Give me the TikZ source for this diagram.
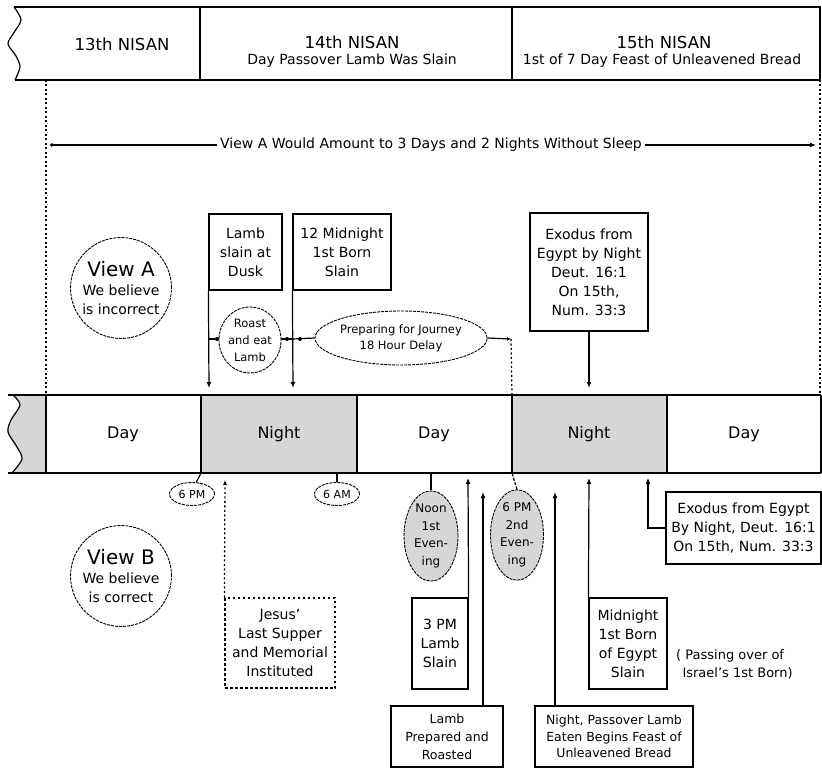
\documentclass[tikz,border=0pt]{standalone}
\usepackage{fontspec}
\setmainfont{DejaVu Sans}
\usetikzlibrary{arrows.meta,shapes.geometric}
\definecolor{nightgray}{gray}{0.84}
\tikzset{
 ln/.style={line width=1.2pt},
 box/.style={draw, line width=1.2pt, fill=white, inner sep=0pt, align=center, font=\fontsize{14}{19}\selectfont},
 dotbox/.style={box, dash pattern=on 2.5pt off 2.5pt},
 tag/.style={draw, ellipse, line width=0.9pt, dash pattern=on 3pt off 1pt, fill=white, inner sep=0pt, align=center},
 vcirc/.style={draw, circle, line width=0.9pt, dash pattern=on 3pt off 1pt, minimum size=101pt, inner sep=0pt, align=center, font=\fontsize{14}{19}\selectfont},
 ar/.style={-{Latex[length=6pt,width=5pt]}, line width=1.2pt},
 dots/.style={line width=1.3pt, dash pattern=on 2pt off 2.5pt},
 lbl/.style={inner sep=0pt, align=center},
 daytxt/.style={inner sep=0pt, font=\fontsize{16}{18}\selectfont},
}
\begin{document}
\begin{tikzpicture}[x=1pt,y=-1pt]
\useasboundingbox (0,0) rectangle (822,770);
% header
\draw[ln] plot[smooth] coordinates {(14,7) (21,20) (13,34) (8,44) (16,56) (20,67) (15,80)};
\draw[ln] (14,7) -- (820,7) -- (820,80) -- (15,80);
\draw[ln] (200,7) -- (200,80);
\draw[ln] (512,7) -- (512,80);
\node[lbl, font=\fontsize{16.5}{18}\selectfont] (h13) at (122,44) {13th NISAN};
\node[lbl, font=\fontsize{16.5}{18}\selectfont] (h14) at (352,42) {14th NISAN};
\node[lbl, font=\fontsize{14}{16}\selectfont] (h14s) at (352,61) {Day Passover Lamb Was Slain};
\node[lbl, font=\fontsize{16.5}{18}\selectfont] (h15) at (664,42) {15th NISAN};
\node[lbl, font=\fontsize{14}{16}\selectfont] (h15s) at (662,61) {1st of 7 Day Feast of Unleavened Bread};
% dotted verticals
\draw[dots] (46,80) -- (46,395);
\draw[dots] (820,80) -- (820,395);
% view A line
\coordinate (vaL) at (50,145);
\coordinate (vaR) at (816,145);
\node[lbl, font=\fontsize{14}{16}\selectfont, fill=white, inner xsep=3pt] (va) at (431,145) {View A Would Amount to 3 Days and 2 Nights Without Sleep};
\draw[ln, {Circle[length=3.5pt]}-] (vaL) -- (va.west);
\draw[ar] (va.east) -- (vaR);
% view A circle
\node[vcirc] (viewA) at (121,288) {{\fontsize{20}{21}\selectfont View A}\\We believe\\is incorrect};
% boxes above
\node[box, minimum width=73pt, minimum height=76pt] (lamb) at (245.5,252) {Lamb\\slain at\\Dusk};
\node[box, minimum width=98pt, minimum height=76pt] (mid12) at (342,252) {12 Midnight\\1st Born\\Slain};
\node[box, minimum width=118pt, minimum height=118pt] (ex1) at (589,272) {Exodus from\\Egypt by Night\\Deut. 16:1\\On 15th,\\Num. 33:3};
\coordinate (t1) at (209,388);
\coordinate (t2) at (293,388);
\coordinate (t3) at (589,388);
\draw[ar] (lamb.south west) -- (t1);
\draw[ar] (mid12.south west) -- (t2);
\draw[ar] (ex1.south) -- (t3);
% horizontal journey line
\coordinate (h1) at (209,339);
\coordinate (h2) at (293,339);
\coordinate (pe) at (511,339);
\coordinate (pb) at (512,395);
\draw[ln] (h1) -- (h2);
\node[tag, minimum width=48pt, minimum height=66pt, font=\fontsize{11.5}{17}\selectfont] (roast) at (250,340) {Roast\\and eat\\Lamb};
\node[tag, minimum width=160pt, minimum height=54pt, font=\fontsize{11.5}{16}\selectfont] (prep) at (401,338) {Preparing for Journey\\18 Hour Delay};
\draw[ln] (h2) -- (prep.west);
\draw[ln, -{Latex[length=4pt,width=4pt]}] (prep.east) -- (pe);
\draw[dots] (pe) -- (pb);
\fill (217,339) circle (2pt);
\fill (287,339) circle (2pt);
\fill (300,339) circle (2pt);
% timeline
\fill[nightgray] plot[smooth] coordinates {(13,395) (20,405) (11,420) (8,432) (17,447) (22,459) (12,473)} -- (46,473) -- (46,395) -- cycle;
\fill[nightgray] (201,395) rectangle (357,473);
\fill[nightgray] (512,395) rectangle (667,473);
\draw[ln] plot[smooth] coordinates {(13,395) (20,405) (11,420) (8,432) (17,447) (22,459) (12,473)};
\draw[ln] (8,395) -- (821,395);
\draw[ln] (8,473) -- (821,473);
\foreach \xx in {46,201,357,512,667,821} \draw[ln] (\xx,395) -- (\xx,473);
\node[daytxt] (d1) at (123,434) {Day};
\node[daytxt] (n1) at (279,434) {Night};
\node[daytxt] (d2) at (434,434) {Day};
\node[daytxt] (n2) at (589,434) {Night};
\node[daytxt] (d3) at (744,434) {Day};
% below timeline
\node[tag, minimum width=45pt, minimum height=23pt, font=\fontsize{11}{12}\selectfont] (pm6) at (192,494) {6 PM};
\node[tag, minimum width=45pt, minimum height=23pt, font=\fontsize{11}{12}\selectfont] (am6) at (337,494) {6 AM};
\draw[ln] (pm6.70) -- (201,473);
\draw[ln] (am6.north) -- (337,473);
\node[tag, fill=nightgray, minimum width=54pt, minimum height=88pt, font=\fontsize{12}{17.5}\selectfont] (noon) at (431,536) {Noon\\1st\\Even-\\ing};
\node[tag, fill=nightgray, minimum width=53pt, minimum height=86pt, font=\fontsize{12}{17.5}\selectfont] (eve2) at (517,535) {6 PM\\2nd\\Even-\\ing};
\draw[ln] (noon.north) -- (431,473);
\draw[ln, dash pattern=on 3pt off 1.5pt] (eve2.north) -- (512,473);
\node[vcirc] (viewB) at (121,576) {{\fontsize{20}{21}\selectfont View B}\\We believe\\is correct};
\node[dotbox, minimum width=110pt, minimum height=90pt] (jesus) at (280,643) {Jesus'\\Last Supper\\and Memorial\\Instituted};
\coordinate (tj) at (225,480);
\draw[dots, -{Latex[length=5pt,width=4pt]}] (jesus.north west) -- (tj);
\node[box, minimum width=56pt, minimum height=91pt] (pm3) at (440,643.5) {3 PM\\Lamb\\Slain};
\coordinate (tp3) at (468,478);
\draw[ar] (pm3.north east) -- (tp3);
\node[box, minimum width=112pt, minimum height=61pt, font=\fontsize{12.5}{18}\selectfont] (lprep) at (447,736.5) {Lamb\\Prepared and\\Roasted};
\coordinate (tlp) at (483,492);
\draw[ar] (lprep.north -| tlp) -- (tlp);
\node[box, minimum width=158pt, minimum height=61pt, font=\fontsize{12.5}{16.5}\selectfont] (npl) at (614,736.5) {Night, Passover Lamb\\Eaten Begins Feast of\\Unleavened Bread};
\coordinate (tnp) at (555,492);
\draw[ar] (npl.north -| tnp) -- (tnp);
\node[box, minimum width=78pt, minimum height=91pt] (mnb) at (628,643.5) {Midnight\\1st Born\\of Egypt\\Slain};
\coordinate (tmn) at (589,478);
\draw[ar] (mnb.north west) -- (tmn);
\node[box, minimum width=155pt, minimum height=72pt] (ex2) at (743.5,528) {Exodus from Egypt\\By Night, Deut. 16:1\\On 15th, Num. 33:3};
\coordinate (ebend) at (648,528);
\coordinate (tex) at (648,478);
\draw[ar] (ex2.west) -- (ebend) -- (tex);
\node[lbl, anchor=west, align=left, font=\fontsize{13}{18}\selectfont] (pass) at (676,664) {( Passing over of\\\ \,Israel's 1st Born)};
\end{tikzpicture}
\end{document}
